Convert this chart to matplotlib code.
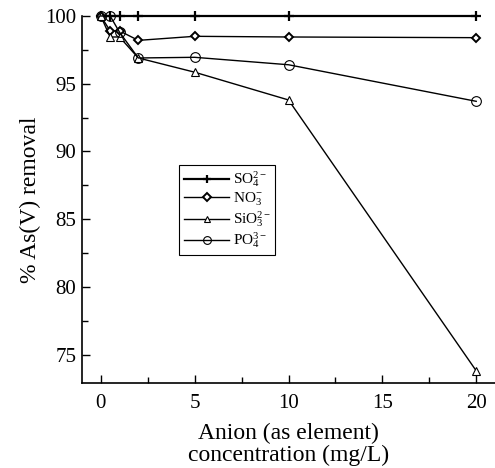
import matplotlib
matplotlib.use("Agg")
import matplotlib.pyplot as plt
from matplotlib.ticker import MultipleLocator

plt.rcParams["font.family"] = "Liberation Serif"
plt.rcParams["mathtext.fontset"] = "custom"
plt.rcParams["mathtext.rm"] = "Liberation Serif"
plt.rcParams["mathtext.it"] = "Liberation Serif:italic"

conc = [0, 0.5, 1, 2, 5, 10, 20]
so4 = [100, 100, 100, 100, 100, 100, 100]
no3 = [100, 98.9, 98.9, 98.2, 98.5, 98.45, 98.4]
sio3 = [100, 98.45, 98.45, 96.9, 95.85, 93.8, 73.8]
po4 = [100, 100, 98.8, 96.9, 96.95, 96.4, 93.7]

labels = [r"SO$_4^{2-}$", r"NO$_3^{-}$", r"SiO$_3^{2-}$", r"PO$_4^{3-}$"]

fig = plt.figure(figsize=(4.95, 4.68), dpi=100)
ax = fig.add_axes([82 / 495, 85 / 468, 413 / 495, 367 / 468])

ax.plot(conc, so4, "k-", marker="+", ms=7.5, mew=1.6, lw=1.6, label=labels[0], clip_on=False)
ax.plot(conc, no3, "k-", marker="D", ms=4.5, mfc="white", mew=1.4, lw=1.0, label=labels[1], clip_on=False)
ax.plot(conc, sio3, "k-", marker="^", ms=5.5, mfc="white", mew=0.8, lw=1.0, label=labels[2], clip_on=False)
ax.plot(conc, po4, "k-", marker="o", ms=7, mfc="none", mew=0.8, lw=1.0, label=labels[3], clip_on=False)

ax.set_xlim(-1, 21)
ax.set_ylim(72.9, 100)
ax.xaxis.set_major_locator(MultipleLocator(5))
ax.xaxis.set_minor_locator(MultipleLocator(2.5))
ax.yaxis.set_major_locator(MultipleLocator(5))
ax.yaxis.set_minor_locator(MultipleLocator(2.5))
ax.tick_params(which="both", direction="in", labelsize=15, width=1)
ax.tick_params(which="major", length=6, pad=8)
ax.tick_params(which="minor", length=4)
ax.tick_params(axis="y", pad=4)

ax.spines["top"].set_visible(False)
ax.spines["right"].set_visible(False)
for s in ["left", "bottom"]:
    ax.spines[s].set_linewidth(1.2)

ax.set_xlabel("Anion (as element)\nconcentration (mg/L)", fontsize=17, labelpad=7, linespacing=1.05)
ax.set_ylabel("% As(V) removal", fontsize=17, labelpad=3)

leg = ax.legend(loc="upper left", bbox_to_anchor=(0.235, 0.594), borderaxespad=0,
                fontsize=11, fancybox=False, edgecolor="black", framealpha=1,
                handlelength=3.0, labelspacing=0.08, handletextpad=0.2,
                borderpad=0.3, markerscale=0.8)
leg.get_frame().set_linewidth(0.8)

fig.savefig("out.png", dpi=100)
